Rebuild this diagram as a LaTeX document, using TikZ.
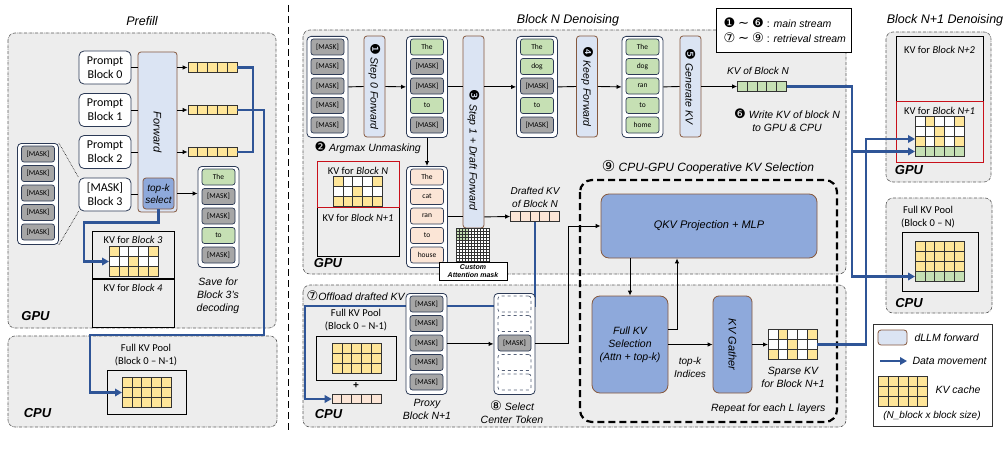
\documentclass[tikz,border=0pt]{standalone}
\usepackage{fontspec}
\setmainfont{Liberation Sans}
\newfontfamily\cali[Ligatures=TeX]{Carlito}
\newfontfamily\dings[Scale=1.25]{DejaVu Sans}
\usepackage{xcolor}
\usetikzlibrary{arrows.meta,positioning,calc}
\definecolor{panelgray}{RGB}{237,237,237}
\definecolor{fwdblue}{RGB}{219,228,243}
\definecolor{fwdbrown}{RGB}{134,89,62}
\definecolor{midblue}{RGB}{142,169,219}
\definecolor{movblue}{RGB}{47,85,151}
\definecolor{navy}{RGB}{44,58,86}
\definecolor{maskgray}{RGB}{166,166,166}
\definecolor{tokgreen}{RGB}{198,224,180}
\definecolor{tokpeach}{RGB}{251,229,214}
\definecolor{kvyellow}{RGB}{255,230,153}
\definecolor{kvred}{RGB}{200,16,26}

\newcommand{\mk}{[MASK]}
\newcommand{\nil}{}
\newcommand{\cn}[1]{{\dings\upshape#1}}
% column of five tokens: name, x, top, list text/style
\newcommand{\tokcol}[4]{%
  \node[tokbox,anchor=north] (#1) at (#2,#3) {};
  \foreach \tx/\st [count=\nn] in {#4}
    \node[\st] (#1-\nn) at ($(#1.north)+(0,{19.5*\nn-8.5})$) {\tx};
}
% kv grid: name, x, y, rows, colours per row
\newcommand{\kvgrid}[5]{%
  \node[inner sep=0pt,outer sep=0pt,minimum width=49pt,minimum height={#4*10pt}] (#1) at (#2,#3) {};
  \foreach \rw [count=\rr] in {#5}
    \foreach \cl [count=\kk] in \rw
      \filldraw[fill=\cl,draw=black!80,line width=0.6pt]
        ($(#1.north west)+({9.8*\kk-9.8},{10*\rr-10})$) rectangle ++(9.8,10);
}
% one row of five kv cells: name, x, y, colour
\newcommand{\kvrow}[4]{%
  \node[draw=black!80,fill=#4,line width=0.6pt,inner sep=0pt,minimum width=49pt,minimum height=9.5pt] (#1) at (#2,#3) {};
  \foreach \kk in {1,...,4}
    \draw[black!80,line width=0.6pt] ($(#1.north west)+(9.8*\kk,0)$) -- ++(0,9.5);
}

\begin{document}
\begin{tikzpicture}[x=1pt,y=-1pt,
    every node/.style={align=center},
    panel/.style={draw=black!65,fill=panelgray,densely dash dot,rounded corners=7pt,line width=0.6pt},
    fwdbox/.style={draw=fwdbrown,fill=fwdblue,rounded corners=3pt,line width=0.8pt,inner sep=0pt},
    bluebox/.style={draw=fwdbrown,fill=midblue,rounded corners=8pt,line width=0.8pt,inner sep=0pt},
    tokbox/.style={draw=navy,fill=white,rounded corners=4pt,line width=0.8pt,minimum width=41pt,minimum height=101pt,inner sep=0pt},
    tok/.style={draw=navy,rounded corners=2.5pt,line width=0.7pt,minimum width=33pt,minimum height=16pt,inner sep=0pt,font=\cali\fontsize{7.5}{9}\selectfont},
    mtok/.style={tok,fill=maskgray},
    gtok/.style={tok,fill=tokgreen},
    ptok/.style={tok,fill=tokpeach},
    etok/.style={tok,draw=navy!80,dashed,fill=white},
    prompt/.style={draw=navy,fill=white,rounded corners=5pt,line width=0.8pt,minimum width=52pt,minimum height=33pt,inner sep=0pt,font=\cali\fontsize{12}{14}\selectfont},
    kvbox/.style={draw=black,line width=1pt,inner sep=0pt},
    boxtxt/.style={font=\cali\fontsize{10.5}{13}\selectfont},
    lbl/.style={font=\itshape\fontsize{10.5}{13}\selectfont},
    smlbl/.style={font=\itshape\fontsize{10}{13}\selectfont},
    steptxt/.style={font=\itshape\fontsize{10.5}{12}\selectfont,rotate=-90},
    hw/.style={font=\bfseries\itshape\fontsize{13}{15}\selectfont},
    ttl/.style={font=\itshape\fontsize{12.5}{15}\selectfont},
    arrow/.style={-{Latex[length=5pt,width=4.5pt]},line width=0.9pt},
    link/.style={line width=0.9pt},
    dmove/.style={draw=movblue,line width=2.2pt},
    movearrow/.style={dmove,-{Triangle[length=7pt,width=7.5pt]}}
  ]
  \useasboundingbox (0,0) rectangle (1007,460);

  % panels
  \draw[panel] (8,33) rectangle (276,328);
  \draw[panel] (8,336) rectangle (277,427);
  \draw[panel] (303,30) rectangle (846,274);
  \draw[panel] (303,285) rectangle (846,427);
  \draw[panel] (886,32) rectangle (991,182);
  \draw[panel] (886,198) rectangle (992,313);
  \draw[line width=1pt,dash pattern=on 7pt off 4pt] (288,5) -- (288,432);

  \node[ttl] (tpre) at (142,21) {Prefill};
  \node[ttl] (tblk) at (568,20) {Block N Denoising};
  \node[ttl] (tnext) at (945,20) {Block N+1 Denoising};

  % prefill, GPU
  \node[prompt] (pb0) at (105,67.5) {Prompt\\Block 0};
  \node[prompt] (pb1) at (105,110) {Prompt\\Block 1};
  \node[prompt] (pb2) at (105,152) {Prompt\\Block 2};
  \node[prompt] (pb3) at (105,194.5) {[MASK]\\Block 3};
  \node[fwdbox,minimum width=39pt,minimum height=160pt] (fwd) at (157.5,132) {};
  \node[steptxt,font=\itshape\fontsize{11}{12}\selectfont] (fwdt) at (157.5,132) {Forward};
  \node[bluebox,rounded corners=3pt,minimum width=31pt,minimum height=31pt,font=\itshape\fontsize{10}{12}\selectfont] (topk) at (158.5,193.5) {top-k\\select};
  \foreach \p in {pb0,pb1,pb2,pb3}
    \draw[link] (\p.east) -- (\p.east -| fwd.west);
  \kvrow{kv0}{212.5}{67.5}{kvyellow}
  \kvrow{kv1}{212.5}{110}{kvyellow}
  \kvrow{kv2}{212.5}{152}{kvyellow}
  \foreach \k in {kv0,kv1,kv2}
    \draw[arrow] (\k.west -| fwd.east) -- (\k.west);

  \tokcol{sv}{218.5}{166}{The/gtok,\mk/mtok,\mk/mtok,to/gtok,\mk/mtok}
  \draw[arrow] (topk.east -| fwd.east) -- (topk.east -| sv.west);
  \node[lbl] (svt) at (218,296) {Save for\\Block 3's\\decoding};

  \tokcol{lm}{38}{143}{\mk/mtok,\mk/mtok,\mk/mtok,\mk/mtok,\mk/mtok}
  \draw[densely dotted,line width=0.6pt] (lm.north east) -- (pb3.north west);
  \draw[densely dotted,line width=0.6pt] (lm.south east) -- (pb3.south west);

  \node[kvbox,minimum width=82pt,minimum height=47pt,anchor=north west] (kvb3) at (92,231) {};
  \node[kvbox,minimum width=82pt,minimum height=48pt,below=0pt of kvb3] (kvb4) {};
  \node[boxtxt] (kvb3t) at (133,240) {KV for \textit{Block 3}};
  \node[boxtxt] (kvb4t) at (133,288) {KV for \textit{Block 4}};
  \kvgrid{g3}{133.5}{261.5}{3}{{kvyellow,white,white,white,kvyellow},{white,white,kvyellow,white,white},{kvyellow,kvyellow,kvyellow,kvyellow,kvyellow}}
  \draw[movearrow] (topk.south) -- ++(0,13) -| ([xshift=-25pt]g3.west) -- (g3.west);
  \node[hw] (pgpu) at (35.5,316) {GPU};

  % prefill, CPU
  \node[hw] (pcpu) at (37.5,413) {CPU};
  \node[boxtxt] (poolt) at (146,355) {Full KV Pool\\(Block 0 -- N-1)};
  \node[kvbox,minimum width=79pt,minimum height=44pt] (pool0) at (146.5,392) {};
  \kvgrid{gp0}{146.5}{392.5}{3}{{kvyellow,kvyellow,kvyellow,kvyellow,kvyellow},{kvyellow,kvyellow,kvyellow,kvyellow,kvyellow},{kvyellow,kvyellow,kvyellow,kvyellow,kvyellow}}
  \draw[dmove] (kv0.east) -| ([xshift=16pt]kv2.east) -- (kv2.east);
  \coordinate (pdrop) at (264,335);
  \draw[movearrow] (kv1.east) -| (pdrop) -| ([xshift=-32pt]gp0.west) -- (gp0.west);

  % block N, main stream
  \tokcol{c1}{327.5}{36}{\mk/mtok,\mk/mtok,\mk/mtok,\mk/mtok,\mk/mtok}
  \node[fwdbox,minimum width=21pt,minimum height=101pt] (s0) at (374.5,86.5) {};
  \node[steptxt] (s0t) at (s0) {\cn{❶} Step 0 Forward};
  \tokcol{c2}{427}{36}{The/gtok,\mk/mtok,\mk/mtok,to/gtok,\mk/mtok}
  \node[fwdbox,minimum width=21pt,minimum height=192pt] (s1) at (473.5,132) {};
  \node[steptxt] (s1t) at (473.5,150) {\cn{❸} Step 1 + Draft Forward};
  \tokcol{c3}{537}{36}{The/gtok,dog/gtok,\mk/mtok,to/gtok,\mk/mtok}
  \node[fwdbox,minimum width=21pt,minimum height=101pt] (s4) at (587,86.5) {};
  \node[steptxt] (s4t) at (s4) {\cn{❹} Keep Forward};
  \tokcol{c4}{642.5}{36}{The/gtok,dog/gtok,ran/gtok,to/gtok,home/gtok}
  \node[fwdbox,minimum width=21pt,minimum height=101pt] (s5) at (690.5,86.5) {};
  \node[steptxt] (s5t) at (s5) {\cn{❺} Generate KV};
  \kvrow{kvn}{762}{86.5}{tokgreen}
  \draw[link] (c1.east) -- (s0.west);
  \draw[arrow] (s0.east) -- (c2.west);
  \draw[link] (c2.east) -- (c2.east -| s1.west);
  \draw[arrow] (c2.east -| s1.east) -- (c3.west);
  \draw[link] (c3.east) -- (s4.west);
  \draw[arrow] (s4.east) -- (c4.west);
  \draw[link] (c4.east) -- (s5.west);
  \draw[arrow] (s5.east) -- (kvn.west);
  \node[smlbl] (kvnt) at (758,71) {KV of Block N};
  \node[lbl] (wrt) at (787,120) {\cn{❻} Write KV of block N\\to GPU \& CPU};

  % block N, draft
  \node[lbl,anchor=west] (amx) at (311,148) {\cn{❷} Argmax Unmasking};
  \tokcol{c2b}{427}{166}{The/ptok,cat/ptok,ran/ptok,to/ptok,house/ptok}
  \draw[arrow] (c2.south) -- (c2b.north);
  \kvrow{dkv}{535}{216.5}{tokpeach}
  \draw[link] (c2b.east) -- (c2b.east -| s1.west);
  \draw[arrow] (c2b.east -| s1.east) -- (dkv.west);
  \node[smlbl] (dkvt) at (535,197) {Drafted KV\\of Block N};
  \node[draw,inner sep=0pt,minimum width=33pt,minimum height=33pt,fill=white,anchor=north west] (am) at (456,228) {};
  \fill[tokgreen] (am.north west) rectangle ++(12,12);
  \draw[black!80,line width=0.45pt,step=3pt] (am.north west) grid (am.south east);
  \node[draw,fill=white,line width=0.8pt,minimum width=68pt,minimum height=18pt,inner sep=0pt,font=\bfseries\itshape\fontsize{7}{8.5}\selectfont] (cam) at (473,271) {Custom\\Attention mask};

  \node[kvbox,minimum width=82pt,minimum height=49pt,anchor=north west] (kvN1) at (317,207) {};
  \node[kvbox,draw=kvred,minimum width=82pt,minimum height=46pt,anchor=north west] (kvN) at (317,161) {};
  \node[boxtxt] (kvNt) at (358,171) {KV for \textit{Block N}};
  \node[boxtxt] (kvN1t) at (358,218) {KV for \textit{Block N+1}};
  \kvgrid{gN}{357.5}{191.5}{3}{{kvyellow,white,white,white,kvyellow},{white,white,kvyellow,white,white},{kvyellow,kvyellow,kvyellow,kvyellow,kvyellow}}
  \node[hw] (ngpu) at (328,263) {GPU};

  % block N, CPU side
  \node[lbl,anchor=west] (offt) at (303,296) {\cn{⑦}Offload drafted KV};
  \node[boxtxt] (poolNt) at (356,320) {Full KV Pool\\(Block 0 -- N-1)};
  \node[kvbox,minimum width=80pt,minimum height=44pt] (poolN) at (356,358) {};
  \kvgrid{gpN}{356.5}{358}{3}{{kvyellow,kvyellow,kvyellow,kvyellow,kvyellow},{kvyellow,kvyellow,kvyellow,kvyellow,kvyellow},{kvyellow,kvyellow,kvyellow,kvyellow,kvyellow}}
  \node[font=\bfseries\fontsize{10}{12}\selectfont] (plus) at (356,386) {+};
  \kvrow{dkc}{356.5}{399}{tokpeach}
  \coordinate (offl) at (305,306);
  \draw[movearrow] (dkv.south) |- (offl) |- (dkc.west);
  \node[hw] (ncpu) at (328.5,414) {CPU};

  \tokcol{px}{426.5}{293}{\mk/mtok,\mk/mtok,\mk/mtok,\mk/mtok,\mk/mtok}
  \node[lbl] (pxt) at (427,409) {Proxy\\Block N+1};
  \tokcol{sc}{514.5}{293}{\nil/etok,\nil/etok,\mk/mtok,\nil/etok,\nil/etok}
  \node[lbl] (sct) at (512,412) {\cn{⑧} Select\\Center Token};
  \draw[arrow] (px.east) -- (sc.west);

  % cooperative selection
  \node[font=\itshape\fontsize{12}{14}\selectfont] (coopt) at (708,167) {\cn{⑨} CPU-GPU Cooperative KV Selection};
  \draw[line width=2.2pt,dash pattern=on 7pt off 4pt,rounded corners=12pt] (580,180) rectangle (837,422);
  \node[bluebox,minimum width=216pt,minimum height=64pt,font=\itshape\fontsize{11}{13}\selectfont] (qkv) at (709,226) {QKV Projection + MLP};
  \node[bluebox,minimum width=76pt,minimum height=97pt,font=\itshape\fontsize{10.5}{13}\selectfont] (fks) at (630,344.5) {Full KV\\Selection\\(Attn + top-k)};
  \node[bluebox,rounded corners=6pt,minimum width=39pt,minimum height=97pt] (kvg) at (732.5,344.5) {};
  \node[steptxt,font=\itshape\fontsize{11}{13}\selectfont] (kvgt) at (kvg) {KV Gather};
  \draw[arrow] (sc.east) -- ++(33,0) |- (qkv.west);
  \draw[arrow] (fks.north |- qkv.south) -- (fks.north);
  \draw[arrow] ([yshift=15pt]fks.east) -| ([xshift=-32pt]qkv.south);
  \draw[arrow] (fks.east) -- (kvg.west);
  \node[smlbl] (tki) at (690,367) {top-k\\Indices};
  \kvgrid{gs}{792.5}{344.5}{3}{{white,kvyellow,white,white,kvyellow},{white,white,kvyellow,white,white},{kvyellow,white,kvyellow,white,kvyellow}}
  \draw[arrow] (kvg.east) -- (gs.west);
  \node[lbl] (gst) at (793,377) {Sparse KV\\for Block N+1};
  \node[lbl,anchor=east] (rpt) at (829,409) {Repeat for each L layers};

  % block N+1
  \node[kvbox,minimum width=87pt,minimum height=65pt,anchor=north west] (kvN2) at (896,36) {};
  \node[kvbox,draw=kvred,minimum width=87pt,minimum height=61pt,anchor=north west] (kvR) at (896,101) {};
  \node[boxtxt] (kvN2t) at (939.5,50) {KV for \textit{Block N+2}};
  \node[boxtxt] (kvRt) at (939.5,111) {KV for \textit{Block N+1}};
  \kvgrid{gN1}{939.5}{136.5}{4}{{white,kvyellow,white,white,kvyellow},{white,white,kvyellow,white,white},{kvyellow,white,kvyellow,white,kvyellow},{tokgreen,tokgreen,tokgreen,tokgreen,tokgreen}}
  \node[hw] (xgpu) at (909,170) {GPU};
  \node[boxtxt] (poolN1t) at (928,217) {Full KV Pool\\(Block 0 -- N)};
  \node[kvbox,minimum width=76pt,minimum height=59pt] (poolN1) at (940,261.5) {};
  \kvgrid{gpN1}{939.5}{261.5}{4}{{kvyellow,kvyellow,kvyellow,kvyellow,kvyellow},{kvyellow,kvyellow,kvyellow,kvyellow,kvyellow},{kvyellow,kvyellow,kvyellow,kvyellow,kvyellow},{tokgreen,tokgreen,tokgreen,tokgreen,tokgreen}}
  \node[hw] (xcpu) at (909,303) {CPU};

  \draw[movearrow] (kvn.east) -| ([xshift=-63pt,yshift=-15pt]gN1.west) coordinate (wsplit) -- ([yshift=-15pt]gN1.west);
  \draw[movearrow] (wsplit) |- ([yshift=-15pt]gpN1.west);
  \draw[movearrow] (gs.east) -| ([xshift=-49pt,yshift=-2.5pt]gN1.west) -- ([yshift=-2.5pt]gN1.west);

  % legends
  \node[draw,fill=white,line width=0.8pt,minimum width=135pt,minimum height=44pt] (leg1) at (783.5,30) {};
  \node[font=\fontsize{10.5}{15}\selectfont,anchor=west,align=left] (leg1t) at (720,30) {\cn{❶} {\dings\textasciitilde} \cn{❻} : \textit{main stream}\\\cn{⑦} {\dings\textasciitilde} \cn{⑨} : \textit{retrieval stream}};

  \node[draw=black!80,fill=white,line width=0.8pt,minimum width=119pt,minimum height=102pt] (leg2) at (932.5,375) {};
  \node[fwdbox,rounded corners=3pt,minimum width=29pt,minimum height=15pt] (lgf) at (892.5,337.5) {};
  \node[lbl,anchor=west] (lgft) at (911,338) {dLLM forward};
  \coordinate (lga) at (880,361);
  \coordinate (lgb) at (907,361);
  \draw[movearrow] (lga) -- (lgb);
  \node[lbl,anchor=west] (lgat) at (909,361) {Data movement};
  \kvgrid{lgg}{903}{391}{3}{{kvyellow,kvyellow,kvyellow,kvyellow,kvyellow},{kvyellow,kvyellow,kvyellow,kvyellow,kvyellow},{kvyellow,kvyellow,kvyellow,kvyellow,kvyellow}}
  \node[lbl,anchor=west] (lggt) at (932,390) {KV cache};
  \node[font=\itshape\fontsize{10}{12}\selectfont] (lgst) at (932,416) {(N\_block x block size)};
\end{tikzpicture}
\end{document}
